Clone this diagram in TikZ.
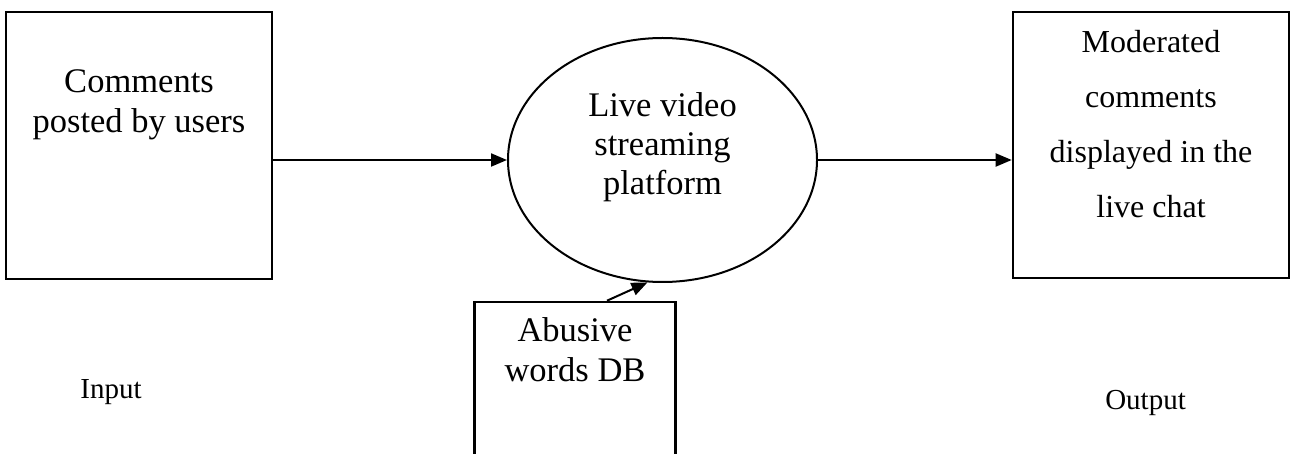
\documentclass[tikz,border=0pt]{standalone}
\usepackage{fontspec}
\setmainfont{Liberation Serif}
\usetikzlibrary{shapes.geometric,arrows.meta,calc}

\tikzstyle{flowbox} = [
    draw,
    rectangle,
    line width=2.6pt,
    inner sep=0pt
    ]
\tikzstyle{flowtext} = [
    align=center,
    inner sep=0pt,
    anchor=north
    ]
\tikzstyle{flowline} = [
    line width=2pt,
    -{Triangle[length=16pt,width=13pt]}
    ]

\begin{document}
\begin{tikzpicture}[x=1pt,y=-1pt]
\useasboundingbox (0,0) rectangle (1290,454);
\clip (0,0) rectangle (1290,454);

% input, output and the word list
\node[flowbox, minimum width=266pt, minimum height=267pt] (comments) at (139,145.5) {};
\node[flowbox, minimum width=276pt, minimum height=266pt] (moderated) at (1151,145) {};
\node[flowbox, minimum width=201pt, minimum height=220pt] (abusive) at (575,412) {};
% the platform in the middle
\node[draw, ellipse, line width=2pt, minimum width=309pt, minimum height=244pt,
      inner sep=0pt] (platform) at (662.5,160) {};

\node[flowtext, font=\fontsize{34.5}{40}\selectfont] (comments-txt)
    at ($(comments.north)+(0,59)$) {Comments\\posted by users};
\node[flowtext, font=\fontsize{32}{55}\selectfont] (moderated-txt)
    at ($(moderated.north)+(0,19)$) {Moderated\\comments\\displayed in the\\live chat};
\node[flowtext, font=\fontsize{34.5}{39}\selectfont] (platform-txt)
    at ($(platform.north)+(0,55)$) {Live video\\streaming\\platform};
\node[flowtext, font=\fontsize{34.5}{40}\selectfont] (abusive-txt)
    at ($(abusive.north)+(0,17)$) {Abusive\\words DB};

\node[anchor=base, inner sep=0pt, font=\fontsize{29}{34}\selectfont] (input) at (111,398) {Input};
\node[anchor=base east, inner sep=0pt, font=\fontsize{29}{34}\selectfont] (output) at (1186,409) {Output};

% flow
\draw[flowline] (platform.west -| comments.east) -- (platform.west);
\draw[flowline] (platform.east) -- (platform.east -| moderated.west);
\draw[flowline] ($(abusive.north)+(32,0)$) -- (platform.-97);
\end{tikzpicture}
\end{document}
